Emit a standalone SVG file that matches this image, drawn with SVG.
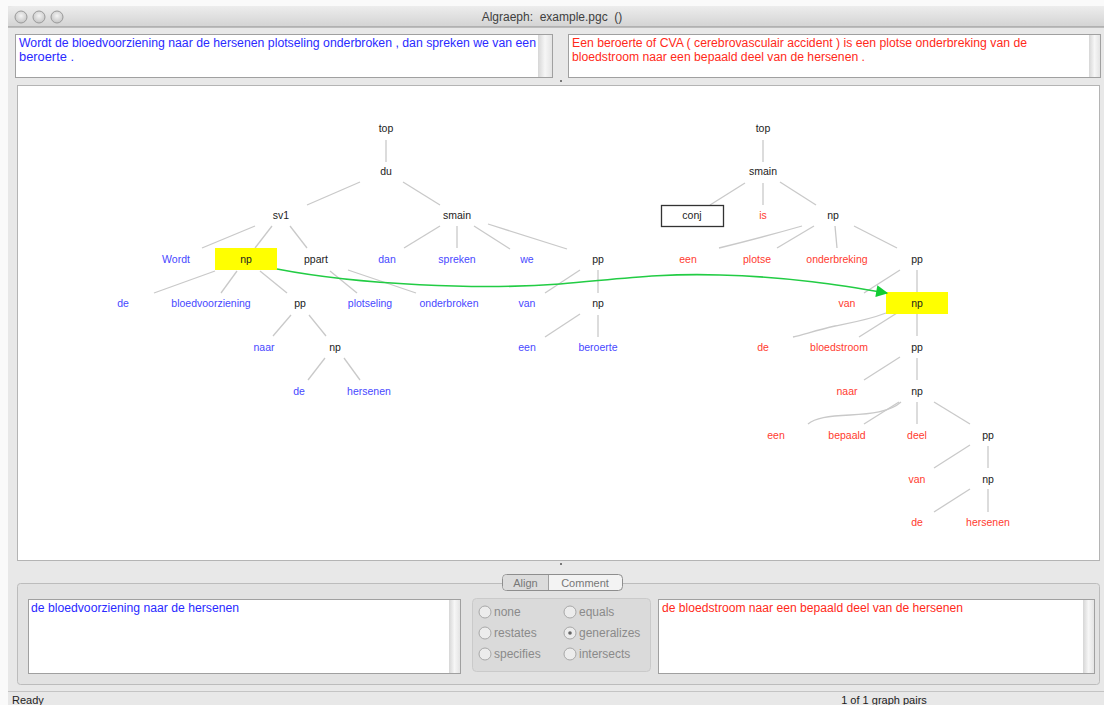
<svg xmlns="http://www.w3.org/2000/svg" width="1104" height="705" viewBox="0 0 1104 705">
<defs>
<linearGradient id="title" x1="0" y1="0" x2="0" y2="1"><stop offset="0" stop-color="#ededed"/><stop offset="1" stop-color="#d3d3d3"/></linearGradient>
<linearGradient id="sb" x1="0" y1="0" x2="1" y2="0"><stop offset="0" stop-color="#d6d6d6"/><stop offset="0.5" stop-color="#f6f6f6"/><stop offset="1" stop-color="#e4e4e4"/></linearGradient>
<radialGradient id="light" cx="0.5" cy="0.4" r="0.6"><stop offset="0" stop-color="#f4f4f4"/><stop offset="1" stop-color="#c4c4c4"/></radialGradient>
<marker id="ah" viewBox="0 0 10 10" refX="9" refY="5" markerWidth="16" markerHeight="12" markerUnits="userSpaceOnUse" orient="auto"><path d="M0,0 L10,5 L0,10 z" fill="#11cc33"/></marker>
<style>
.ui{font-family:"Liberation Sans",Arial,sans-serif}
.t{font-family:"Liberation Sans",Arial,sans-serif;font-size:10.5px;text-anchor:middle}
.c{fill:#222}
.b{fill:#4848ff}
.r{fill:#ff3b2f}
.e{stroke:#c9c9c9;stroke-width:1.3;fill:none}
.pb{fill:#2a2aff;font-family:"Liberation Sans",Arial,sans-serif;font-size:12px}
.pr{fill:#ff2a1a;font-family:"Liberation Sans",Arial,sans-serif;font-size:12px}
.rad{fill:#8a8a8a;font-family:"Liberation Sans",Arial,sans-serif;font-size:12px}
.rc{fill:#ececec;stroke:#a8a8a8;stroke-width:1}
.box{fill:#fff;stroke:#a0a0a0;stroke-width:1}
</style>
</defs>
<!-- window background -->
<rect x="0" y="0" width="1104" height="705" fill="#fafafa"/>
<rect x="8" y="6" width="1096" height="699" fill="#e8e8e8"/>
<!-- title bar -->
<g id="titlebar">
<path d="M8,27 V12 Q8,6 14,6 H1104 V27 Z" fill="url(#title)"/>
<line x1="8" y1="27" x2="1104" y2="27" stroke="#8f8f8f"/>
<circle cx="21" cy="17" r="6" fill="url(#light)" stroke="#9a9a9a"/>
<circle cx="39" cy="17" r="6" fill="url(#light)" stroke="#9a9a9a"/>
<circle cx="57" cy="17" r="6" fill="url(#light)" stroke="#9a9a9a"/>
<text class="ui" x="552" y="21" font-size="12" fill="#404040" text-anchor="middle" xml:space="preserve" style="white-space:pre">Algraeph:  example.pgc  ()</text>
</g>
<!-- top text panels -->
<g id="source-text">
<rect class="box" x="15.5" y="34.5" width="537" height="43"/>
<rect x="538" y="35" width="14" height="42" fill="url(#sb)"/>
<text class="pb" x="19" y="47" textLength="517" lengthAdjust="spacingAndGlyphs">Wordt de bloedvoorziening naar de hersenen plotseling onderbroken , dan spreken we van een</text>
<text class="pb" x="19" y="61" textLength="55" lengthAdjust="spacingAndGlyphs">beroerte .</text>
</g>
<g id="target-text">
<rect class="box" x="568.5" y="34.5" width="532" height="43"/>
<rect x="1089" y="35" width="11" height="42" fill="url(#sb)"/>
<text class="pr" x="572" y="47" textLength="455" lengthAdjust="spacingAndGlyphs">Een beroerte of CVA ( cerebrovasculair accident ) is een plotse onderbreking van de</text>
<text class="pr" x="572" y="61" textLength="293" lengthAdjust="spacingAndGlyphs">bloedstroom naar een bepaald deel van de hersenen .</text>
</g>
<circle cx="561" cy="81" r="1" fill="#555"/>
<!-- graph panel -->
<rect x="17.5" y="85.5" width="1082" height="475" fill="#fff" stroke="#b4b4b4"/>
<circle cx="561" cy="564" r="1" fill="#555"/>

<g id="connectors">
<!-- left tree -->
<line class="e" x1="386" y1="140" x2="386" y2="162"/>
<line class="e" x1="360" y1="182" x2="307" y2="205"/>
<line class="e" x1="403" y1="182" x2="440" y2="205"/>
<line class="e" x1="255" y1="226" x2="202" y2="248"/>
<line class="e" x1="272" y1="226" x2="255" y2="248"/>
<line class="e" x1="290" y1="226" x2="307" y2="248"/>
<line class="e" x1="440" y1="226" x2="404" y2="248"/>
<line class="e" x1="457" y1="226" x2="457" y2="248"/>
<line class="e" x1="474" y1="226" x2="510" y2="249"/>
<line class="e" x1="488" y1="224" x2="567" y2="249"/>
<line class="e" x1="215" y1="271" x2="154" y2="293"/>
<line class="e" x1="237" y1="271" x2="221" y2="293"/>
<line class="e" x1="260" y1="271" x2="287" y2="293"/>
<line class="e" x1="330" y1="271" x2="357" y2="293"/>
<line class="e" x1="348" y1="270" x2="416" y2="293"/>
<line class="e" x1="580" y1="270" x2="545" y2="293"/>
<line class="e" x1="598" y1="270" x2="598" y2="293"/>
<line class="e" x1="580" y1="314" x2="545" y2="337"/>
<line class="e" x1="598" y1="315" x2="598" y2="337"/>
<line class="e" x1="291" y1="315" x2="273" y2="336"/>
<line class="e" x1="309" y1="315" x2="326" y2="336"/>
<line class="e" x1="325" y1="358" x2="308" y2="380"/>
<line class="e" x1="344" y1="358" x2="360" y2="380"/>
<!-- right tree -->
<line class="e" x1="763" y1="140" x2="763" y2="162"/>
<line class="e" x1="745" y1="183" x2="710" y2="205"/>
<line class="e" x1="763" y1="183" x2="763" y2="205"/>
<line class="e" x1="780" y1="182" x2="816" y2="205"/>
<path class="e" d="M802,226 Q760,238 719,248"/>
<line class="e" x1="814" y1="226" x2="777" y2="248"/>
<line class="e" x1="835" y1="226" x2="837" y2="248"/>
<line class="e" x1="854" y1="226" x2="897" y2="248"/>
<line class="e" x1="900" y1="270" x2="864" y2="293"/>
<line class="e" x1="917" y1="270" x2="917" y2="292"/>
<path class="e" d="M886,313 C868,320 850,323 835,326 C818,330 805,334 793,337"/>
<line class="e" x1="897" y1="313" x2="859" y2="337"/>
<line class="e" x1="917" y1="314" x2="917" y2="336"/>
<line class="e" x1="900" y1="357" x2="864" y2="380"/>
<line class="e" x1="917" y1="358" x2="917" y2="380"/>
<path class="e" d="M901,402 C890,412 870,414 850,415 C828,416 815,418 808,424"/>
<line class="e" x1="899" y1="402" x2="864" y2="424"/>
<line class="e" x1="917" y1="402" x2="917" y2="424"/>
<line class="e" x1="934" y1="402" x2="970" y2="424"/>
<line class="e" x1="970" y1="445" x2="934" y2="468"/>
<line class="e" x1="988" y1="446" x2="988" y2="468"/>
<line class="e" x1="970" y1="489" x2="934" y2="512"/>
<line class="e" x1="988" y1="489" x2="988" y2="512"/>
</g>

<!-- left tree nodes -->
<g id="L-top"><text class="t c" x="386" y="131.5">top</text></g>
<g id="L-du"><text class="t c" x="386" y="174.5">du</text></g>
<g id="L-sv1"><text class="t c" x="281" y="218.5">sv1</text></g>
<g id="L-smain"><text class="t c" x="457" y="218.5">smain</text></g>
<g id="L-Wordt"><text class="t b" x="176" y="262.5">Wordt</text></g>
<g id="L-np1"><rect x="215" y="248" width="62" height="22" fill="#ffff00"/><text class="t c" x="246" y="262.5">np</text></g>
<g id="L-ppart"><text class="t c" x="316" y="262.5">ppart</text></g>
<g id="L-dan"><text class="t b" x="387" y="262.5">dan</text></g>
<g id="L-spreken"><text class="t b" x="457" y="262.5">spreken</text></g>
<g id="L-we"><text class="t b" x="527" y="262.5">we</text></g>
<g id="L-pp1"><text class="t c" x="598" y="262.5">pp</text></g>
<g id="L-de1"><text class="t b" x="123" y="306.5">de</text></g>
<g id="L-bloedvoorziening"><text class="t b" x="211" y="306.5">bloedvoorziening</text></g>
<g id="L-pp2"><text class="t c" x="300" y="306.5">pp</text></g>
<g id="L-plotseling"><text class="t b" x="370" y="306.5">plotseling</text></g>
<g id="L-onderbroken"><text class="t b" x="449" y="306.5">onderbroken</text></g>
<g id="L-van"><text class="t b" x="527" y="306.5">van</text></g>
<g id="L-np2"><text class="t c" x="598" y="306.5">np</text></g>
<g id="L-naar"><text class="t b" x="264" y="350.5">naar</text></g>
<g id="L-np3"><text class="t c" x="335" y="350.5">np</text></g>
<g id="L-een"><text class="t b" x="527" y="350.5">een</text></g>
<g id="L-beroerte"><text class="t b" x="598" y="350.5">beroerte</text></g>
<g id="L-de2"><text class="t b" x="299" y="394.5">de</text></g>
<g id="L-hersenen"><text class="t b" x="369" y="394.5">hersenen</text></g>

<!-- right tree nodes -->
<g id="R-top"><text class="t c" x="763" y="131.5">top</text></g>
<g id="R-smain"><text class="t c" x="763" y="174.5">smain</text></g>
<g id="R-conj"><rect x="661.5" y="205.5" width="62" height="21" fill="#fff" stroke="#333" stroke-width="1.3"/><text class="t c" x="692" y="218.5">conj</text></g>
<g id="R-is"><text class="t r" x="763" y="218.5">is</text></g>
<g id="R-np1"><text class="t c" x="833" y="218.5">np</text></g>
<g id="R-een1"><text class="t r" x="688" y="262.5">een</text></g>
<g id="R-plotse"><text class="t r" x="757" y="262.5">plotse</text></g>
<g id="R-onderbreking"><text class="t r" x="837" y="262.5">onderbreking</text></g>
<g id="R-pp1"><text class="t c" x="917" y="262.5">pp</text></g>
<g id="R-van1"><text class="t r" x="847" y="306.5">van</text></g>
<g id="R-np2"><rect x="886" y="292" width="62" height="22" fill="#ffff00"/><text class="t c" x="917" y="306.5">np</text></g>
<g id="R-de1"><text class="t r" x="763" y="350.5">de</text></g>
<g id="R-bloedstroom"><text class="t r" x="839" y="350.5">bloedstroom</text></g>
<g id="R-pp2"><text class="t c" x="917" y="350.5">pp</text></g>
<g id="R-naar"><text class="t r" x="847" y="394.5">naar</text></g>
<g id="R-np3"><text class="t c" x="917" y="394.5">np</text></g>
<g id="R-een2"><text class="t r" x="776" y="438.5">een</text></g>
<g id="R-bepaald"><text class="t r" x="847" y="438.5">bepaald</text></g>
<g id="R-deel"><text class="t r" x="917" y="438.5">deel</text></g>
<g id="R-pp3"><text class="t c" x="988" y="438.5">pp</text></g>
<g id="R-van2"><text class="t r" x="917" y="482.5">van</text></g>
<g id="R-np4"><text class="t c" x="988" y="482.5">np</text></g>
<g id="R-de2"><text class="t r" x="917" y="525.5">de</text></g>
<g id="R-hersenen"><text class="t r" x="988" y="525.5">hersenen</text></g>

<g id="alignment">
<path d="M277,269 C360,285 480,290 560,284 C620,279 660,273 720,275 C790,277 840,285 887,293" fill="none" stroke="#22cc44" stroke-width="1.6" marker-end="url(#ah)"/>
</g>

<!-- bottom panel -->
<g id="bottom-panel">
<rect x="17.5" y="583.5" width="1082" height="101" rx="3" fill="#e2e2e2" stroke="#bcbcbc"/>
<rect x="502.5" y="574.5" width="120" height="16" rx="4" fill="#f3f3f3" stroke="#8e8e8e"/>
<path d="M506.5,575 H548 V590 H506.5 Q503,590 503,586 V579 Q503,575 506.5,575 Z" fill="#dcdcdc"/>
<line x1="548.5" y1="575" x2="548.5" y2="590" stroke="#a0a0a0"/>
<text class="ui" x="525.5" y="586.5" font-size="11" fill="#777" text-anchor="middle">Align</text>
<text class="ui" x="585" y="586.5" font-size="11" fill="#777" text-anchor="middle">Comment</text>
</g>
<g id="source-selection">
<rect class="box" x="28.5" y="599.5" width="432" height="74"/>
<rect x="449" y="600" width="11" height="73" fill="url(#sb)"/>
<text class="pb" x="31" y="612" textLength="208" lengthAdjust="spacingAndGlyphs">de bloedvoorziening naar de hersenen</text>
</g>
<g id="relations">
<rect x="472.5" y="598.5" width="178" height="73" rx="4" fill="#dadada" stroke="#cacaca"/>
<circle class="rc" cx="485" cy="612" r="6"/><text class="rad" x="494" y="616">none</text>
<circle class="rc" cx="485" cy="633" r="6"/><text class="rad" x="494" y="637">restates</text>
<circle class="rc" cx="485" cy="654" r="6"/><text class="rad" x="494" y="658">specifies</text>
<circle class="rc" cx="570" cy="612" r="6"/><text class="rad" x="579" y="616">equals</text>
<circle class="rc" cx="570" cy="633" r="6"/><circle cx="570" cy="633" r="1.8" fill="#666"/><text class="rad" x="579" y="637">generalizes</text>
<circle class="rc" cx="570" cy="654" r="6"/><text class="rad" x="579" y="658">intersects</text>
</g>
<g id="target-selection">
<rect class="box" x="658.5" y="599.5" width="436" height="74"/>
<rect x="1083" y="600" width="11" height="73" fill="url(#sb)"/>
<text class="pr" x="662" y="612" textLength="301" lengthAdjust="spacingAndGlyphs">de bloedstroom naar een bepaald deel van de hersenen</text>
</g>
<!-- status bar -->
<g id="statusbar">
<line x1="8" y1="691.5" x2="1104" y2="691.5" stroke="#c4c4c4"/>
<text class="ui" x="12" y="704" font-size="11" fill="#222">Ready</text>
<text class="ui" x="884" y="704" font-size="11" fill="#222" text-anchor="middle">1 of 1 graph pairs</text>
</g>
</svg>
